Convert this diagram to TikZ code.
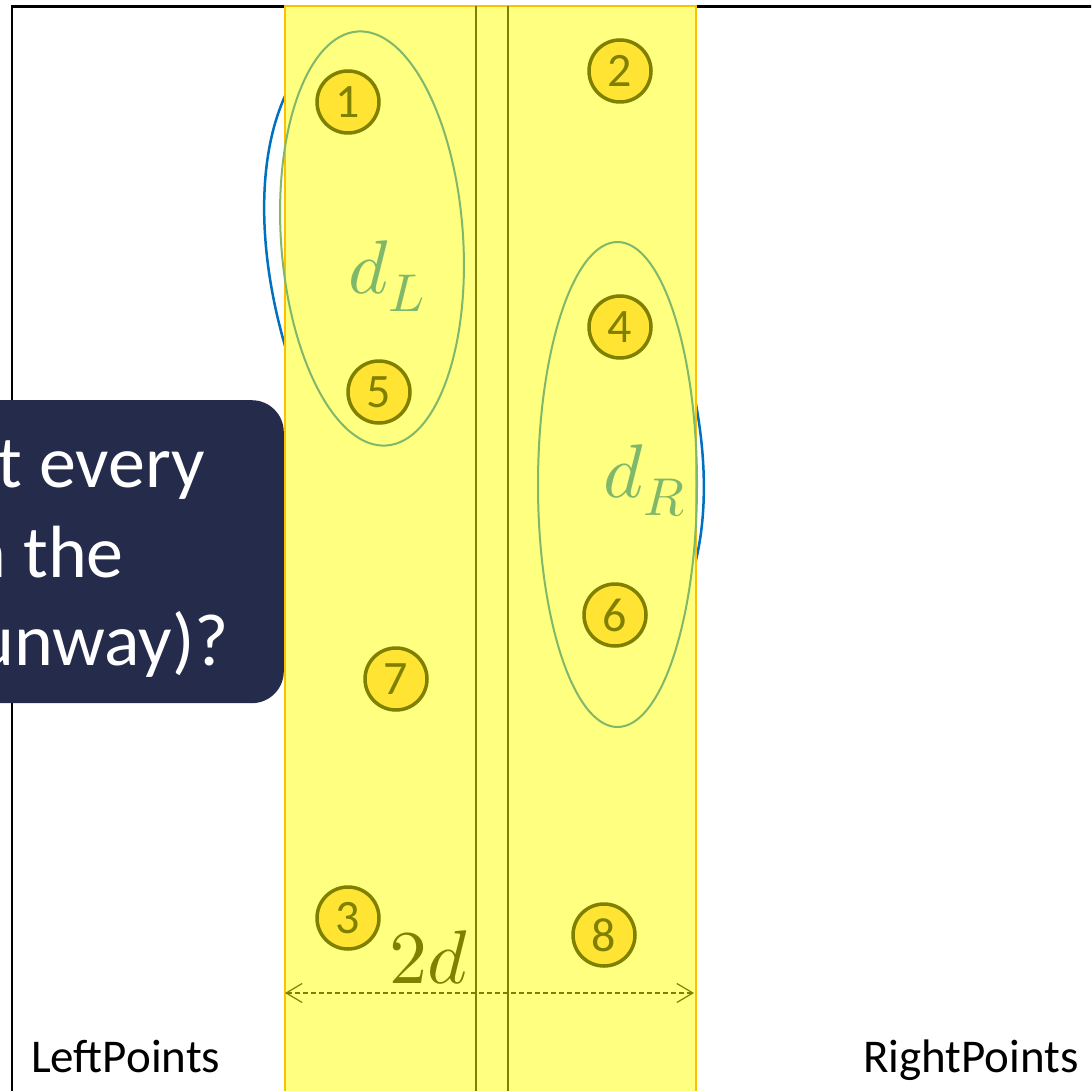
\documentclass[tikz,border=0pt]{standalone}
\usepackage{fontspec}
\usepackage{unicode-math}
\setmainfont{Carlito}
\setmathfont{Latin Modern Math}
\usetikzlibrary{shapes.geometric,arrows.meta}
\definecolor{stripfill}{HTML}{FFFF80}
\definecolor{stripedge}{HTML}{FFC000}
\definecolor{olive}{HTML}{808000}
\definecolor{dotfill}{HTML}{FFE433}
\definecolor{greenC}{HTML}{7FB76B}
\definecolor{blueC}{HTML}{0070C0}
\definecolor{navy}{HTML}{242B4B}
\tikzset{
  pt/.style={circle, draw=olive, fill=dotfill, line width=3.5pt, minimum size=62pt, inner sep=0pt,
    text=olive, font=\fontsize{48}{54}\selectfont},
  grp/.style={ellipse, draw=greenC, line width=2pt, inner sep=0pt},
  lbl/.style={text=greenC, font=\fontsize{76}{82}\selectfont},
  dim/.style={olive, line width=1.2pt, dash pattern=on 5pt off 3pt, {Straight Barb[length=16pt,width=19pt]}-{Straight Barb[length=16pt,width=19pt]}},
  lane/.style={olive, line width=2pt},
  bottomtxt/.style={font=\fontsize{47}{56}\selectfont, text=black},
  boxtxt/.style={font=\fontsize{74}{88}\selectfont, text=white, inner sep=0pt}
}
\begin{document}
\begin{tikzpicture}[x=1pt,y=-1pt]
\useasboundingbox (0,0) rectangle (1091,1091);
\clip (0,0) rectangle (1091,1091);
\fill[white] (0,0) rectangle (1091,1091);
% frame
\draw[line width=2.5pt] (12,1100) -- (12,6.5) -- (1100,6.5);
% blue ellipse (behind strip)
\node[ellipse, draw=blueC, line width=2.5pt, minimum width=374pt, minimum height=690pt, inner sep=0pt, rotate=23.5] (blueE) at (484,347.5) {};
% strip
\node[draw=stripedge, fill=stripfill, line width=2pt, minimum width=411pt, minimum height=1100pt, inner sep=0pt, anchor=north west] (strip) at (284,5) {};
% lanes
\coordinate (l1t) at (476,6); \coordinate (l1b) at (476,1100);
\coordinate (l2t) at (508,6); \coordinate (l2b) at (508,1100);
\draw[lane] (l1t) -- (l1b);
\draw[lane] (l2t) -- (l2b);
% groups
\node[grp, minimum width=182pt, minimum height=415pt, rotate=4] (gL) at (372,238.5) {};
\node[grp, minimum width=159pt, minimum height=485pt] (gR) at (617.5,484.5) {};
\node[lbl, anchor=base west] (dL) at (345,293) {$d_L$};
\node[lbl, anchor=base west] (dR) at (600,497) {$d_R$};
% points
\node[pt] (c1) at (348,102) {1};
\node[pt] (c2) at (620,71) {2};
\node[pt] (c3) at (348,918) {3};
\node[pt] (c4) at (620,327) {4};
\node[pt] (c5) at (379,392) {5};
\node[pt] (c6) at (615,615) {6};
\node[pt] (c7) at (396,679) {7};
\node[pt] (c8) at (604,935) {8};
% dimension
\coordinate (aL) at (285,993);
\coordinate (aR) at (694,993);
\draw[dim] (aL) -- (aR);
\node[text=olive, font=\fontsize{76}{82}\selectfont, anchor=base west] (twod) at (386,983) {$2d$};
% question box
\node[fill=navy, rounded corners=32pt, minimum width=420pt, minimum height=303pt, inner sep=0pt, anchor=north east] (qbox) at (284,400) {};
\node[boxtxt, anchor=base east] (q1) at (205,487) {t every};
\node[boxtxt, anchor=base east] (q2) at (124,577) {n the};
\node[boxtxt, anchor=base east] (q3) at (229,665) {unway)?};
% bottom labels
\node[bottomtxt, anchor=base west, inner sep=0pt] (lp) at (31,1072) {LeftPoints};
\node[bottomtxt, anchor=base east, inner sep=0pt] (rp) at (1079,1072) {RightPoints};
\end{tikzpicture}
\end{document}
